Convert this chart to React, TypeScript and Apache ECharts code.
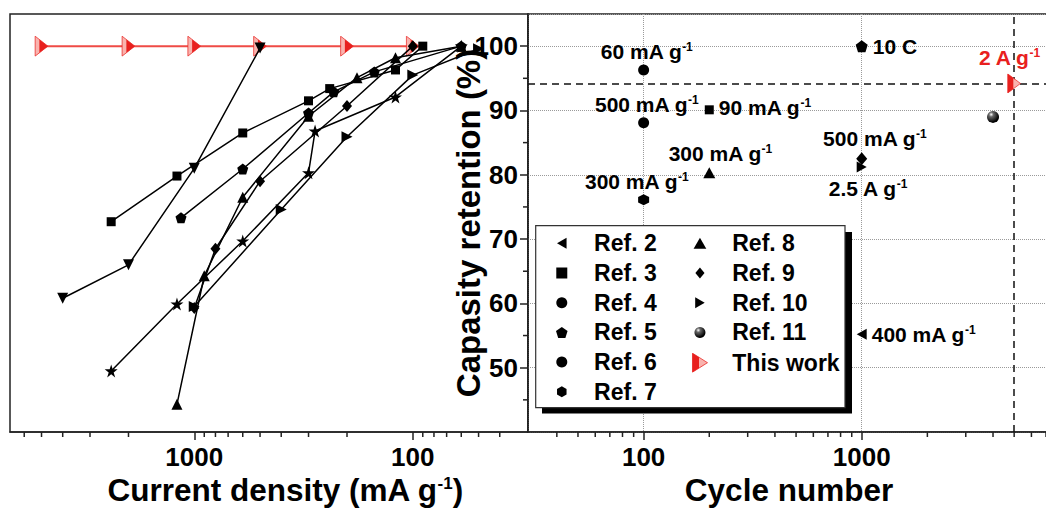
import React, { useEffect, useRef } from 'react';
import * as echarts from 'echarts';

const FONT = "'Liberation Sans', Arial, Helvetica, sans-serif";

// ---------- Left panel: retention vs current density (mA g-1) ----------
const rateDownTri = [[4000, 60.8], [2000, 66], [1000, 81], [500, 99.7]];
const rateSquare = [[2400, 72.7], [1200, 79.8], [600, 86.5], [300, 91.5], [240, 93.4], [120, 96.3], [90, 100]];
const ratePenta = [[1150, 73.3], [600, 80.9], [300, 89.6], [230, 92.9], [150, 96], [60, 100]];
const rateUpTri = [[1200, 44.3], [900, 64.3], [600, 76.5], [300, 89.1], [180, 95.1], [120, 98.2], [60, 100]];
const rateDiamond = [[1000, 59.3], [800, 68.5], [500, 79], [200, 90.7], [100, 100]];
const rateStar = [[2400, 49.5], [1200, 59.9], [600, 69.7], [300, 80.3], [280, 86.8], [120, 92.1], [60, 100]];
const rateRightTri = [[1000, 59.5], [400, 74.6], [200, 85.9], [100, 95.5], [50, 99.6]];
const rateThisWork = [[5000, 100], [2000, 100], [1000, 100], [500, 100], [200, 100], [100, 100]];

// ---------- Right panel: retention vs cycle number ----------
const refNames = ['Ref. 2', 'Ref. 3', 'Ref. 4', 'Ref. 5', 'Ref. 6', 'Ref. 7', 'Ref. 8', 'Ref. 9', 'Ref. 10', 'Ref. 11'];
const refCycles = [1000, 200, 100, 1000, 100, 100, 200, 1000, 1000, 4000];
const refRetention = [55.2, 90.1, 96.3, 100, 88.1, 76.1, 80.3, 82.5, 81.2, 89.0];
const refConditions = ['400 mA g-1', '90 mA g-1', '60 mA g-1', '10 C', '500 mA g-1', '300 mA g-1', '300 mA g-1', '500 mA g-1', '2.5 A g-1', ''];
const thisWorkName = 'This work';
const thisWorkCycles = [5000];
const thisWorkRetention = [94.2];
const thisWorkCondition = '2 A g-1';

// ---------- Axis ticks ----------
const xMinorTicks = [40, 50, 60, 70, 80, 90, 200, 300, 400, 500, 600, 700, 800, 900, 2000, 3000, 4000, 5000, 6000, 7000];
const yMinorTicks = [45, 55, 65, 75, 85, 95];

// ---------- Symbols ----------
const SQUARE = 'path://M0,0H10V10H0Z';
const TRI_UP = 'path://M6,0L12,10.4L0,10.4Z';
const TRI_DOWN = 'path://M0,0L12,0L6,10.4Z';
const TRI_RIGHT = 'path://M0,0L10.4,6L0,12Z';
const TRI_LEFT = 'path://M10.4,0L0,6L10.4,12Z';
const DIAMOND = 'path://M5,0L10,6L5,12L0,6Z';
const STAR = 'path://M50,0L61.2,34.5L97.6,34.5L68.2,55.9L79.4,90.5L50,69.1L20.6,90.5L31.8,55.9L2.4,34.5L38.8,34.5Z';
const PENTA = 'path://M50,0L97.6,34.5L79.4,90.5L20.6,90.5L2.4,34.5Z';
const HEXA = 'path://M50,0L93.3,25L93.3,75L50,100L6.7,75L6.7,25Z';

const RED = '#e8201e';
const PALE = '#f9b3ae';
const svgA = `<svg xmlns="http://www.w3.org/2000/svg" width="32" height="40" viewBox="0 0 32 40"><polygon points="1,1 31,20 1,39" fill="${PALE}" stroke="${RED}" stroke-width="1.5"/><polygon points="11,7.33 31,20 11,32.67" fill="${RED}"/></svg>`;
const svgB = `<svg xmlns="http://www.w3.org/2000/svg" width="32" height="40" viewBox="0 0 32 40"><polygon points="1,1 31,20 1,39" fill="${PALE}" stroke="${RED}" stroke-width="1.5"/><polygon points="1,1 14,9.23 14,30.77 1,39" fill="${RED}"/></svg>`;
const TW_A = 'image://data:image/svg+xml;charset=utf-8,' + encodeURIComponent(svgA);
const TW_B = 'image://data:image/svg+xml;charset=utf-8,' + encodeURIComponent(svgB);

const sphere = new echarts.graphic.RadialGradient(0.35, 0.3, 0.65, [
  { offset: 0, color: '#ffffff' },
  { offset: 0.3, color: '#666666' },
  { offset: 1, color: '#000000' },
]);

const refStyle: any[] = [
  { symbol: TRI_LEFT, size: [10, 11], pos: 'right', off: [0, 0] },
  { symbol: SQUARE, size: 9, pos: 'right', off: [0, -2] },
  { symbol: 'circle', size: 11, pos: 'top', off: [3, 3] },
  { symbol: PENTA, size: 12, pos: 'right', off: [0, 0] },
  { symbol: 'circle', size: 11, pos: 'top', off: [3, 3] },
  { symbol: HEXA, size: 11, pos: 'top', off: [-7, 3] },
  { symbol: TRI_UP, size: [12, 11], pos: 'top', off: [11, 2] },
  { symbol: DIAMOND, size: [11, 13], pos: 'top', off: [13, 2] },
  { symbol: TRI_RIGHT, size: [10, 11], pos: 'bottom', off: [6, 0] },
  { symbol: 'circle', size: 12, sphere: true },
];

const richStyles = (size: number, color: string) => ({
  a: { fontFamily: FONT, fontWeight: 'bold', fontSize: size, color, textBorderWidth: 0 },
  s: { fontFamily: FONT, fontWeight: 'bold', fontSize: Math.round(size * 0.55), color, textBorderWidth: 0, padding: [0, 0, Math.round(size * 0.45), 0] },
});

const condText = (c: string) => (c.endsWith('-1') ? `{a|${c.slice(0, -2)}}{s|-1}` : `{a|${c}}`);

function rateSeries(data: number[][], symbol: string, size: any) {
  return {
    type: 'line',
    xAxisIndex: 0,
    yAxisIndex: 0,
    data,
    symbol,
    symbolSize: size,
    showSymbol: true,
    lineStyle: { color: '#000', width: 1.5 },
    itemStyle: { color: '#000', opacity: 1 },
    z: 3,
    silent: true,
  };
}

function minorX(gridIdx: number, values: number[]) {
  return {
    type: 'custom',
    xAxisIndex: gridIdx,
    yAxisIndex: gridIdx,
    silent: true,
    clip: false,
    z: 1,
    data: values.map((v) => [v, 40]),
    renderItem: (_p: any, api: any) => {
      const p = api.coord([api.value(0), api.value(1)]);
      return { type: 'line', shape: { x1: p[0], y1: p[1], x2: p[0], y2: p[1] + 5 }, style: { stroke: '#222', lineWidth: 1.5 } };
    },
  };
}

function minorY(values: number[]) {
  return {
    type: 'custom',
    xAxisIndex: 1,
    yAxisIndex: 1,
    silent: true,
    clip: false,
    z: 1,
    data: values.map((v) => [29.5, v]),
    renderItem: (_p: any, api: any) => {
      const p = api.coord([api.value(0), api.value(1)]);
      return { type: 'line', shape: { x1: p[0], y1: p[1], x2: p[0] - 5, y2: p[1] }, style: { stroke: '#222', lineWidth: 1.5 } };
    },
  };
}

const axisLineStyle = { color: '#222', width: 1.5 };
const tickLabel = { fontFamily: FONT, fontWeight: 'bold', fontSize: 26, color: '#000' };
const titleStyle = (size: number, pad: number[]) => ({
  fontFamily: FONT,
  fontWeight: 'bold',
  fontSize: size,
  color: '#000',
  padding: pad,
  rich: richStyles(size, '#000'),
});

function buildOption(): any {
  const refSeries = refNames.map((name, i) => {
    const st = refStyle[i];
    return {
      type: 'scatter',
      name,
      xAxisIndex: 1,
      yAxisIndex: 1,
      data: [[refCycles[i], refRetention[i]]],
      symbol: st.symbol,
      symbolSize: st.size,
      itemStyle: { color: st.sphere ? sphere : '#000', opacity: 1 },
      z: 3,
      silent: true,
      label: refConditions[i]
        ? {
            show: true,
            position: st.pos,
            offset: st.off,
            distance: 5,
            color: '#000',
            textBorderWidth: 0,
            formatter: condText(refConditions[i]),
            rich: richStyles(21, '#000'),
          }
        : { show: false },
    };
  });

  const legendBase = {
    orient: 'vertical',
    padding: 0,
    itemGap: 5.7,
    itemWidth: 54.6,
    itemHeight: 11,
    selectedMode: false,
    symbolKeepAspect: true,
    textStyle: { fontFamily: FONT, fontWeight: 'bold', fontSize: 23, color: '#000', lineHeight: 24 },
    z: 10,
  };

  return {
    animation: false,
    backgroundColor: '#fff',
    textStyle: { fontFamily: FONT },
    grid: [
      { left: 10, right: 518, top: 14, bottom: 76, show: true, borderColor: '#222', borderWidth: 1.5, backgroundColor: 'transparent', containLabel: false, outerBoundsMode: 'none' },
      { left: 528, right: -4, top: 14, bottom: 76, show: true, borderColor: '#222', borderWidth: 1.5, backgroundColor: 'transparent', containLabel: false, outerBoundsMode: 'none' },
    ],
    xAxis: [
      {
        type: 'log',
        logBase: 10,
        gridIndex: 0,
        inverse: true,
        min: 29.7,
        max: 6970,
        axisLine: { show: true, onZero: false, lineStyle: axisLineStyle },
        axisTick: { show: true, length: 8, lineStyle: axisLineStyle },
        axisLabel: { ...tickLabel, margin: 12, showMinLabel: false, showMaxLabel: false, formatter: (v: number) => String(Math.round(v)) },
        splitLine: { show: false },
        name: '{a|Current density (mA g}{s|-1}{a|)}',
        nameLocation: 'middle',
        nameGap: 42,
        nameMoveOverlap: false,
        nameTextStyle: titleStyle(31.5, [0, 0, 0, 32]),
      },
      {
        type: 'log',
        logBase: 10,
        gridIndex: 1,
        min: 29.5,
        max: 7300,
        axisLine: { show: true, onZero: false, lineStyle: axisLineStyle },
        axisTick: { show: true, length: 8, lineStyle: axisLineStyle },
        axisLabel: { ...tickLabel, margin: 12, showMinLabel: false, showMaxLabel: false, formatter: (v: number) => String(Math.round(v)) },
        splitLine: { show: true, lineStyle: { type: 'dotted', color: '#9a9a9a', width: 1 } },
        name: '{a|Cycle number}',
        nameLocation: 'middle',
        nameGap: 42,
        nameMoveOverlap: false,
        nameTextStyle: titleStyle(31.5, [0, 0, 0, 0]),
      },
    ],
    yAxis: [
      { type: 'value', gridIndex: 0, min: 40, max: 105, show: false },
      {
        type: 'value',
        gridIndex: 1,
        min: 40,
        max: 105,
        interval: 10,
        position: 'left',
        axisLine: { show: true, onZero: false, lineStyle: axisLineStyle },
        axisTick: { show: true, length: 8, lineStyle: axisLineStyle },
        axisLabel: { ...tickLabel, margin: 10, showMinLabel: false, showMaxLabel: false },
        splitLine: { show: true, lineStyle: { type: 'dotted', color: '#9a9a9a', width: 1 } },
        name: '{a|Capasity retention (%)}',
        nameLocation: 'middle',
        nameGap: 43,
        nameMoveOverlap: false,
        nameTextStyle: titleStyle(33, [0, 0, 0, 0]),
      },
    ],
    legend: [
      { ...legendBase, left: 556, top: 231.3, data: refNames.slice(0, 6) },
      { ...legendBase, left: 693.6, top: 231.3, data: refNames.slice(6) },
      { ...legendBase, left: 672.7, top: 350.7, itemHeight: 20, data: [thisWorkName] },
    ],
    graphic: [
      { type: 'rect', z: 5, silent: true, shape: { x: 542, y: 232, width: 310, height: 181.5 }, style: { fill: '#000' } },
      { type: 'rect', z: 6, silent: true, shape: { x: 535.7, y: 225.7, width: 309.3, height: 182 }, style: { fill: '#fff', stroke: '#333', lineWidth: 1.2 } },
    ],
    series: [
      minorX(0, xMinorTicks.filter((v) => v > 29.7 && v < 6970)),
      minorX(1, xMinorTicks.filter((v) => v > 29.5 && v < 7300)),
      minorY(yMinorTicks),
      {
        type: 'line',
        name: 'This work (rate)',
        xAxisIndex: 0,
        yAxisIndex: 0,
        data: rateThisWork,
        symbol: TW_A,
        symbolSize: [17, 21],
        symbolKeepAspect: true,
        lineStyle: { color: '#ef4b46', width: 2 },
        itemStyle: { color: RED, opacity: 1 },
        z: 2,
        silent: true,
      },
      rateSeries(rateDownTri, TRI_DOWN, 11),
      rateSeries(rateSquare, SQUARE, 9),
      rateSeries(ratePenta, PENTA, 11),
      rateSeries(rateUpTri, TRI_UP, 11),
      rateSeries(rateDiamond, DIAMOND, [10, 12]),
      rateSeries(rateStar, STAR, 13),
      rateSeries(rateRightTri, TRI_RIGHT, 11),
      ...refSeries,
      {
        type: 'scatter',
        name: thisWorkName,
        xAxisIndex: 1,
        yAxisIndex: 1,
        data: thisWorkCycles.map((c, i) => [c, thisWorkRetention[i]]),
        symbol: TW_B,
        symbolSize: [17, 20],
        symbolKeepAspect: true,
        itemStyle: { color: RED, opacity: 1 },
        z: 4,
        silent: true,
        label: {
          show: true,
          position: 'top',
          distance: 5,
          offset: [-5, 0],
          color: RED,
          textBorderWidth: 0,
          formatter: condText(thisWorkCondition),
          rich: richStyles(21, RED),
        },
        markLine: {
          silent: true,
          z: 1,
          symbol: ['none', 'none'],
          label: { show: false },
          lineStyle: { type: [7, 5], color: '#111', width: 1.5 },
          data: [{ xAxis: thisWorkCycles[0] }, { yAxis: thisWorkRetention[0] }],
        },
      },
    ],
  };
}

export default function App() {
  const ref = useRef<HTMLDivElement>(null);
  useEffect(() => {
    if (!ref.current) return;
    const chart = echarts.init(ref.current, null, { renderer: 'svg' });
    chart.setOption(buildOption());
    return () => chart.dispose();
  }, []);
  return <div ref={ref} style={{ position: 'absolute', left: 0, top: 0, width: 1046, height: 508 }} />;
}
